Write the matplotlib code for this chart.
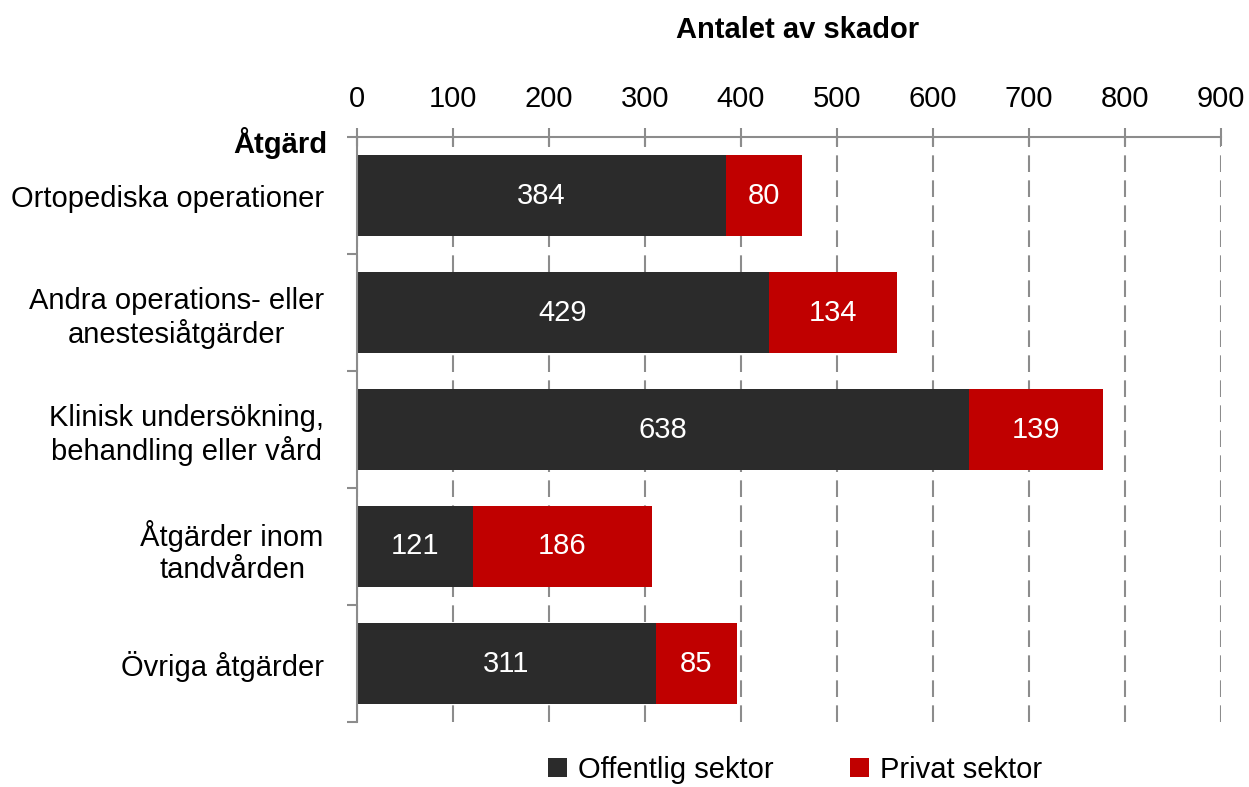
import numpy as np
import matplotlib.pyplot as plt
from matplotlib.ticker import FixedLocator

plt.rcParams['font.family'] = ['Liberation Sans', 'DejaVu Sans']

# data
kategorier = ["Ortopediska operationer",
              "Andra operations- eller\nanestesiåtgärder",
              "Klinisk undersökning,\nbehandling eller vård",
              "Åtgärder inom\ntandvården",
              "Övriga åtgärder"]
offentlig = [384, 429, 638, 121, 311]
privat = [80, 134, 139, 186, 85]
xticks = [0, 100, 200, 300, 400, 500, 600, 700, 800, 900]

dark = '#2b2b2b'
red = '#c00000'
gray = '#8c8c8c'
fs = 21

fig = plt.figure(figsize=(12.49, 7.87), dpi=100)
ax = fig.add_axes([357/1249, 1-722/787, (1221-357)/1249, (722-137)/787])

y = np.arange(len(kategorier))
b1 = ax.barh(y, offentlig, height=0.7, color=dark, label='Offentlig sektor', zorder=2)
b2 = ax.barh(y, privat, left=offentlig, height=0.7, color=red, label='Privat sektor', zorder=2)

# value labels
for i in range(len(kategorier)):
    ax.text(offentlig[i]/2, y[i], str(offentlig[i]), color='white', ha='center', va='center', fontsize=fs, zorder=3)
    ax.text(offentlig[i] + privat[i]/2, y[i], str(privat[i]), color='white', ha='center', va='center', fontsize=fs, zorder=3)

ax.set_xlim(0, 900)
ax.set_ylim(4.5, -0.5)
ax.xaxis.tick_top()
ax.set_xticks(xticks)
ax.tick_params(axis='x', direction='inout', length=13, width=1.5, color=gray, labelsize=fs, pad=11)
ax.xaxis.grid(True, linestyle=(0, (8, 4)), color=gray, linewidth=1.5, zorder=0)
ax.set_axisbelow(True)

ax.set_yticks(y)
ax.set_yticklabels(kategorier, fontsize=fs, multialignment='center', linespacing=1.2)
ax.tick_params(axis='y', which='major', length=0, pad=24)
ax.yaxis.set_minor_locator(FixedLocator(np.arange(-0.5, 5, 1)))
ax.tick_params(axis='y', which='minor', direction='out', length=7, width=1.5, color=gray)

for s in ['right', 'bottom']:
    ax.spines[s].set_visible(False)
for s in ['left', 'top']:
    ax.spines[s].set_color(gray)
    ax.spines[s].set_linewidth(1.5)

fig.text(327/1249, 1-143/787, 'Åtgärd', fontsize=fs, fontweight='bold', ha='right', va='center')
fig.text(798/1249, 1-30/787, 'Antalet av skador', fontsize=fs, fontweight='bold', ha='center', va='center')

fig.legend(handles=[b1, b2], loc='center', bbox_to_anchor=(795/1249, 1-770/787), ncol=2, frameon=False,
           fontsize=fs, handlelength=0.65, handleheight=0.65, handletextpad=0.4, columnspacing=2.6,
           borderpad=0.1)

fig.savefig('out.png', dpi=100)
